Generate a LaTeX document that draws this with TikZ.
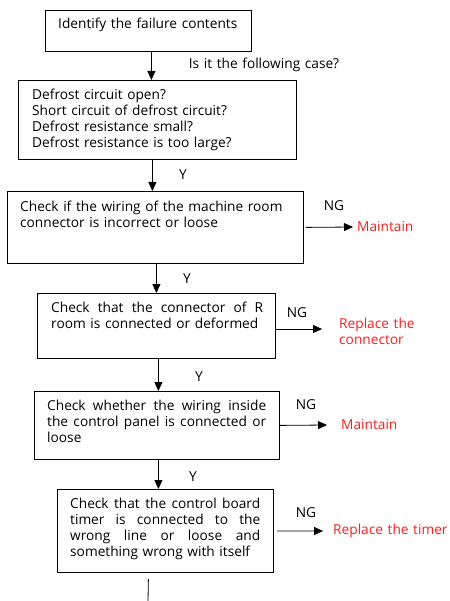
\documentclass[tikz,border=0pt]{standalone}
\usepackage{fontspec}
\setmainfont[WordSpace={1.3,1,1}]{Open Sans}
\usetikzlibrary{arrows.meta, positioning, calc}
\definecolor{cFix}{RGB}{250,30,30}
\hyphenpenalty=10000
\exhyphenpenalty=10000

\begin{document}
\begin{tikzpicture}[x=1pt, y=-1pt, font=\fontsize{13.7}{16}\selectfont,
  box/.style={draw, line width=0.8pt, anchor=north west, inner sep=0pt},
  txt/.style={inner sep=0pt, align=left},
  jtxt/.style={inner sep=0pt, align=justify},
  lab/.style={inner sep=0pt},
  fix/.style={anchor=west, inner sep=0pt, text=cFix, align=left},
  arr/.style={-{Triangle[length=9pt, width=8pt]}, line width=0.8pt}]
  \useasboundingbox (0,0) rectangle (449,601);

  % boxes
  \node[box, minimum width=206pt, minimum height=41pt] (b1) at (45,10) {};
  \node[box, minimum width=278pt, minimum height=79pt] (b2) at (18,80) {};
  \node[box, minimum width=296pt, minimum height=72pt] (b3) at (7,191) {};
  \node[box, minimum width=238pt, minimum height=65pt] (b4) at (37,293) {};
  \node[box, minimum width=245pt, minimum height=68pt] (b5) at (34,391) {};
  \node[box, minimum width=216pt, minimum height=83pt] (b6) at (57,489) {};

  % texts in the boxes
  \node[txt, below right=8pt and 13pt of b1.north west] (t1) {Identify the failure contents};
  \node[txt, below right=9pt and 14pt of b2.north west] (t2) {Defrost circuit open?\\Short circuit of defrost circuit?\\Defrost resistance small?\\Defrost resistance is too large?};
  \node[txt, below right=10pt and 13pt of b3.north west] (t3) {Check if the wiring of the machine room\\connector is incorrect or loose};
  \node[jtxt, text width=212pt, below right=9pt and 14pt of b4.north west] (t4) {Check that the connector of R\linebreak room is connected or deformed};
  \node[jtxt, text width=219pt, below right=9pt and 13pt of b5.north west] (t5) {Check whether the wiring inside\linebreak the control panel is connected or\linebreak loose};
  \node[jtxt, text width=190pt, below right=9pt and 13pt of b6.north west] (t6) {Check that the control board\linebreak timer is connected to the\linebreak wrong line or loose and\linebreak something wrong with itself};

  % results
  \node[fix] (m3) at (357,227) {Maintain};
  \node[fix] (r4) at (339,331) {Replace the\\connector};
  \node[fix] (m5) at (341,425) {Maintain};
  \node[fix] (r6) at (333,531) {Replace the timer};

  % labels
  \node[lab] (q1) at (264,65) {Is it the following case?};
  \node[lab] (y2) at (183,175) {Y};
  \node[lab] (y3) at (187,279) {Y};
  \node[lab] (y4) at (199,377) {Y};
  \node[lab] (y5) at (193,477) {Y};
  \node[lab] (g3) at (334,206) {NG};
  \node[lab] (g4) at (297,313) {NG};
  \node[lab] (g5) at (306,405) {NG};
  \node[lab] (g6) at (306,513) {NG};

  % down arrows
  \coordinate (s1) at ([xshift=3pt]b1.south);
  \coordinate (s2) at ([xshift=-5pt]b2.south);
  \coordinate (s3) at ([xshift=1pt]b3.south);
  \coordinate (s4) at ([xshift=2pt]b4.south);
  \coordinate (s5) at ([xshift=1.5pt]b5.south);
  \coordinate (s6) at ([xshift=-17pt, yshift=-6pt]b6.south);
  \coordinate (fin) at (148,601);
  \draw[arr] (s1) -- (s1 |- b2.north);
  \draw[arr] (s2) -- (s2 |- b3.north);
  \draw[arr] (s3) -- (s3 |- b4.north);
  \draw[arr] (s4) -- (s4 |- b5.north);
  \draw[arr] (s5) -- (s5 |- b6.north);
  \draw[line width=0.8pt] (s6) -- (fin);

  % NG arrows
  \coordinate (e4) at ([xshift=-17pt, yshift=2pt]r4.west);
  \draw[arr] ([xshift=2pt]b3.east) -- ([xshift=-4pt]m3.west);
  \draw[arr] (b4.east |- e4) -- (e4);
  \draw[arr] (b5.east) -- ([xshift=-14pt]m5.west);
  \draw[arr] ([xshift=3pt]b6.east) -- ([xshift=-10pt]r6.west);
\end{tikzpicture}
\end{document}
